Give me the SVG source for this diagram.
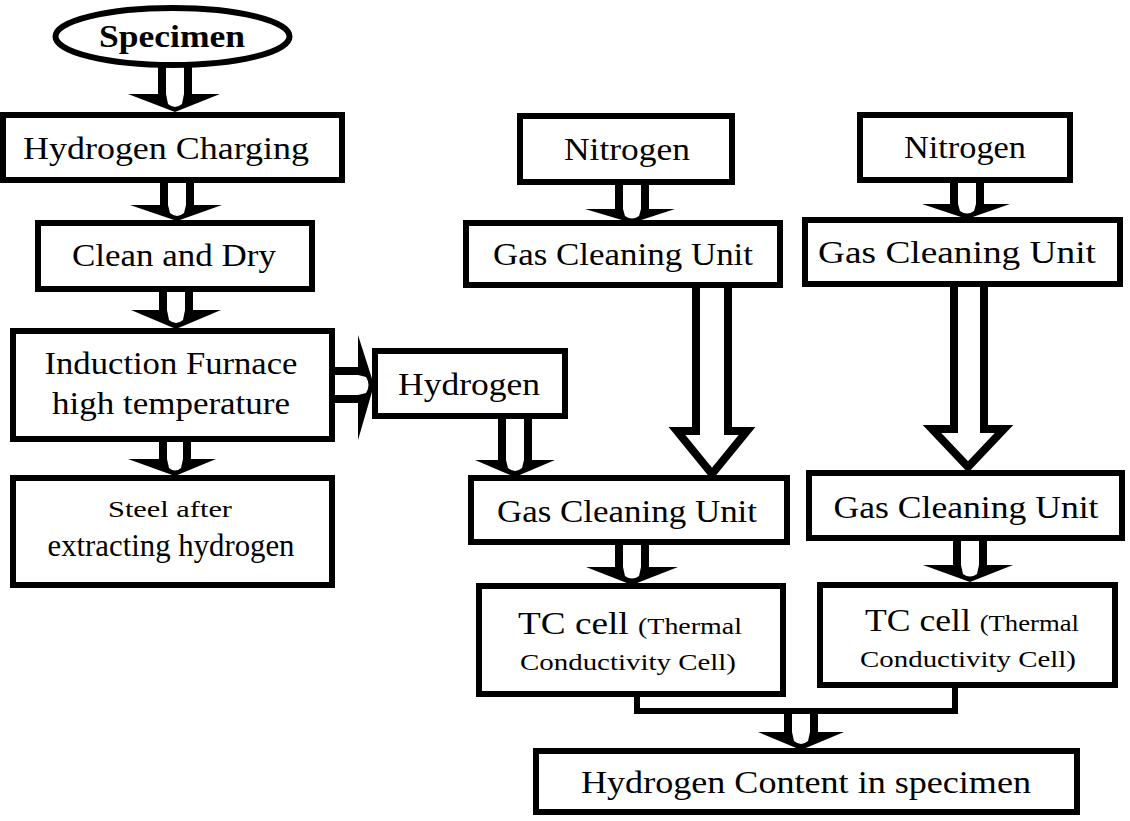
<svg xmlns="http://www.w3.org/2000/svg" width="1130" height="821" viewBox="0 0 1130 821">
<style>
.box{fill:#fff;stroke:#000;stroke-width:6}
.t{font-family:"Liberation Serif","Times New Roman",serif;font-size:32px;fill:#000;text-anchor:middle}
.s{font-size:24px}
.b{font-weight:bold}
.sh{fill:none;stroke:#000;stroke-width:8}
.hd{fill:#000}
.tg{fill:#fff}
.big{fill:#fff;stroke:#000;stroke-width:8;stroke-linejoin:miter;stroke-miterlimit:10}
.ln{fill:none;stroke:#000;stroke-width:6}
</style>
<rect width="1130" height="821" fill="#fff"/>
<g id="connectors">
  <!-- Specimen -> Hydrogen Charging -->
  <path class="sh" d="M162,60V97M188,60V97"/>
  <polygon class="hd" points="128,94 220,94 175,112"/>
  <path class="tg" d="M166,94H184L182,104Q175,110 168,104Z"/>
  <!-- HC -> Clean and Dry -->
  <path class="sh" d="M164,183V208M190,183V208"/>
  <polygon class="hd" points="130,205 222,205 177,221"/>
  <path class="tg" d="M168,205H186L184,213Q177,219 170,213Z"/>
  <!-- C&D -> Induction -->
  <path class="sh" d="M163,292V313M189,292V313"/>
  <polygon class="hd" points="131,310 221,310 176,329"/>
  <path class="tg" d="M167,310H185L183,320Q176,326 169,320Z"/>
  <!-- Induction -> Steel -->
  <path class="sh" d="M163,442V462M187,442V462"/>
  <polygon class="hd" points="128,459 216,459 175,476"/>
  <path class="tg" d="M167,459H183L181,468Q175,473 169,468Z"/>
  <!-- Induction -> Hydrogen (right) -->
  <path class="sh" d="M335,371H362M335,399H362"/>
  <polygon class="hd" points="358,335 358,440 374,385"/>
  <path class="tg" d="M358,375V395L366,393Q371,385 366,377Z"/>
  <!-- Hydrogen -> GCU mid bottom -->
  <path class="sh" d="M502,419V463M528,419V463"/>
  <polygon class="hd" points="475,460 555,460 515,477"/>
  <path class="tg" d="M506,460H524L522,468Q515,474 508,468Z"/>
  <!-- Nitrogen mid -> GCU mid top -->
  <path class="sh" d="M619,185V212M645,185V212"/>
  <polygon class="hd" points="585,209 675,209 632,223"/>
  <path class="tg" d="M623,209H641L639,216Q632,221 625,216Z"/>
  <!-- Nitrogen right -> GCU right top -->
  <path class="sh" d="M954,183V207M980,183V207"/>
  <polygon class="hd" points="922,204 1010,204 967,219"/>
  <path class="tg" d="M958,204H976L974,211Q967,216 960,211Z"/>
  <!-- big arrow mid -->
  <polygon class="big" points="696,284 696,431 677,431 712,474 747,431 728,431 728,284"/>
  <!-- big arrow right -->
  <polygon class="big" points="954,283 954,429 932,429 968,467 1004,429 984,429 984,283"/>
  <!-- GCU mid bottom -> TC mid -->
  <path class="sh" d="M619,545V570M645,545V570"/>
  <polygon class="hd" points="586,567 678,567 632,585"/>
  <path class="tg" d="M623,567H641L639,576Q632,581 625,576Z"/>
  <!-- GCU right bottom -> TC right -->
  <path class="sh" d="M957,541V568M983,541V568"/>
  <polygon class="hd" points="923,565 1013,565 970,582"/>
  <path class="tg" d="M961,565H979L977,574Q970,579 963,574Z"/>
  <!-- merge U -->
  <path class="ln" d="M637,696V711H955V687"/>
  <!-- U -> Hydrogen Content -->
  <path class="sh" d="M788,711V735M814,711V735"/>
  <polygon class="hd" points="758,732 844,732 801,750"/>
  <path class="tg" d="M792,732H810L808,741Q801,747 794,741Z"/>
</g>
<g id="specimen">
  <ellipse cx="172.5" cy="36.5" rx="117" ry="28.5" fill="#fff" stroke="#000" stroke-width="6"/>
  <text class="t b" x="172" y="47" font-size="30" textLength="146" lengthAdjust="spacingAndGlyphs">Specimen</text>
</g>
<g id="hydrogen-charging">
  <rect class="box" x="3" y="115" width="339" height="65"/>
  <text class="t" x="166" y="159" textLength="286" lengthAdjust="spacingAndGlyphs">Hydrogen Charging</text>
</g>
<g id="clean-dry">
  <rect class="box" x="38" y="223" width="274" height="66"/>
  <text class="t" x="174" y="266" textLength="204" lengthAdjust="spacingAndGlyphs">Clean and Dry</text>
</g>
<g id="induction-furnace">
  <rect class="box" x="13" y="331" width="319" height="108"/>
  <text class="t" x="171" y="374" textLength="253" lengthAdjust="spacingAndGlyphs">Induction Furnace</text>
  <text class="t" x="171" y="414" textLength="238" lengthAdjust="spacingAndGlyphs">high temperature</text>
</g>
<g id="steel">
  <rect class="box" x="13" y="478" width="319" height="107"/>
  <text class="t s" x="170" y="517" textLength="124" lengthAdjust="spacingAndGlyphs">Steel after</text>
  <text class="t" x="171" y="556" font-size="30" textLength="247" lengthAdjust="spacingAndGlyphs">extracting hydrogen</text>
</g>
<g id="hydrogen">
  <rect class="box" x="375" y="351" width="190" height="65"/>
  <text class="t" x="469" y="395" textLength="142" lengthAdjust="spacingAndGlyphs">Hydrogen</text>
</g>
<g id="nitrogen-1">
  <rect class="box" x="520" y="116" width="212" height="66"/>
  <text class="t" x="627" y="160" textLength="126" lengthAdjust="spacingAndGlyphs">Nitrogen</text>
</g>
<g id="gcu-1a">
  <rect class="box" x="466" y="223" width="314" height="62"/>
  <text class="t" x="623" y="265" textLength="260" lengthAdjust="spacingAndGlyphs">Gas Cleaning Unit</text>
</g>
<g id="gcu-1b">
  <rect class="box" x="471" y="478" width="316" height="64"/>
  <text class="t" x="627" y="522" textLength="260" lengthAdjust="spacingAndGlyphs">Gas Cleaning Unit</text>
</g>
<g id="tc-1">
  <rect class="box" x="479" y="586" width="304" height="108"/>
  <text class="t" x="630" y="634" textLength="224" lengthAdjust="spacingAndGlyphs"><tspan>TC cell </tspan><tspan font-size="24">(Thermal</tspan></text>
  <text class="t s" x="628" y="670" textLength="216" lengthAdjust="spacingAndGlyphs">Conductivity Cell)</text>
</g>
<g id="nitrogen-2">
  <rect class="box" x="860" y="115" width="210" height="65"/>
  <text class="t" x="965" y="158" textLength="122" lengthAdjust="spacingAndGlyphs">Nitrogen</text>
</g>
<g id="gcu-2a">
  <rect class="box" x="805" y="220" width="315" height="64"/>
  <text class="t" x="957" y="263" textLength="278" lengthAdjust="spacingAndGlyphs">Gas Cleaning Unit</text>
</g>
<g id="gcu-2b">
  <rect class="box" x="809" y="473" width="313" height="65"/>
  <text class="t" x="966" y="518" textLength="265" lengthAdjust="spacingAndGlyphs">Gas Cleaning Unit</text>
</g>
<g id="tc-2">
  <rect class="box" x="820" y="585" width="295" height="100"/>
  <text class="t" x="972" y="631" textLength="214" lengthAdjust="spacingAndGlyphs"><tspan>TC cell </tspan><tspan font-size="24">(Thermal</tspan></text>
  <text class="t s" x="968" y="667" textLength="216" lengthAdjust="spacingAndGlyphs">Conductivity Cell)</text>
</g>
<g id="hydrogen-content">
  <rect class="box" x="536" y="751" width="541" height="61"/>
  <text class="t" x="806" y="793" textLength="450" lengthAdjust="spacingAndGlyphs">Hydrogen Content in specimen</text>
</g>
</svg>
